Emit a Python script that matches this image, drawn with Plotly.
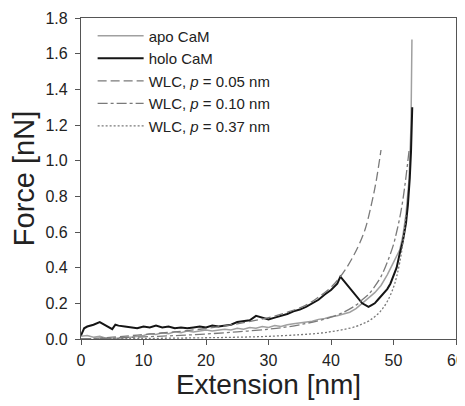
import plotly.graph_objects as go

holo_x = [0,0.5,1,2,3,4,5,5.5,6,7,8,9,10,11,12,13,14,15,16,17,18,19,20,21,22,23,24,25,26,27,28,29,30,31,32,33,34,35,36,37,38,39,40,41,41.5,45,46,46.5,47,47.5,48,48.5,49,49.5,50,50.5,51,51.5,52,52.3,52.6,52.8,53]
holo_y = [0.02,0.06,0.07,0.08,0.095,0.075,0.055,0.08,0.075,0.07,0.065,0.06,0.07,0.065,0.075,0.065,0.07,0.06,0.065,0.06,0.065,0.07,0.065,0.075,0.07,0.075,0.08,0.095,0.1,0.105,0.13,0.12,0.11,0.12,0.13,0.14,0.155,0.165,0.18,0.2,0.22,0.25,0.275,0.31,0.35,0.2,0.18,0.19,0.2,0.22,0.24,0.26,0.28,0.31,0.35,0.4,0.48,0.55,0.65,0.75,0.9,1.05,1.3]

apo_x = [0,1,2,3,4,5,6,7,8,9,10,11,12,13,14,15,16,17,18,19,20,21,22,23,24,25,26,27,28,29,30,31,32,33,34,35,36,37,38,39,40,41,42,43,44,45,46,47,48,49,50,50.5,51,51.5,52,52.5,52.8,52.95]
apo_y = [0.015,0.02,0.01,0.015,0.005,0.0,0.005,0.01,0.01,0.015,0.02,0.03,0.025,0.035,0.03,0.04,0.035,0.045,0.04,0.045,0.05,0.045,0.05,0.055,0.05,0.06,0.055,0.065,0.06,0.07,0.065,0.075,0.07,0.08,0.085,0.09,0.095,0.1,0.11,0.115,0.125,0.13,0.14,0.15,0.17,0.2,0.23,0.26,0.3,0.36,0.43,0.47,0.5,0.58,0.7,0.9,1.2,1.68]

wlc05_x = [0,5,10,15,20,25,30,33,36,38,40,41.5,42.5,43.5,44.5,45.5,46.5,47.2,48]
wlc05_y = [0,0.01,0.025,0.04,0.059,0.085,0.12,0.15,0.19,0.235,0.29,0.35,0.40,0.46,0.53,0.62,0.76,0.88,1.06]

wlc10_x = [0,5,10,15,20,25,30,33,36,38,40,42,44,45,46,47,48,49,50,50.5,51,51.5,52,52.5]
wlc10_y = [0,0.005,0.012,0.019,0.028,0.04,0.055,0.068,0.087,0.103,0.122,0.15,0.19,0.22,0.25,0.295,0.35,0.43,0.53,0.6,0.68,0.78,0.91,1.06]

wlc37_x = [0,10,20,25,30,35,38,40,42,44,45,46,47,48,49,50,50.5,51,51.5,52]
wlc37_y = [0,0.003,0.007,0.01,0.015,0.024,0.032,0.041,0.053,0.07,0.084,0.1,0.125,0.159,0.21,0.29,0.35,0.43,0.54,0.7]

x_ticks = [0, 10, 20, 30, 40, 50, 60]
y_ticks = [0.0, 0.2, 0.4, 0.6, 0.8, 1.0, 1.2, 1.4, 1.6, 1.8]

FONT = "Liberation Sans, Arial, sans-serif"

fig = go.Figure()
fig.add_trace(go.Scatter(x=apo_x, y=apo_y, mode="lines", name="apo CaM",
                         line=dict(color="#a0a0a0", width=1.5)))
fig.add_trace(go.Scatter(x=holo_x, y=holo_y, mode="lines", name="holo CaM",
                         line=dict(color="#151515", width=2)))
fig.add_trace(go.Scatter(x=wlc05_x, y=wlc05_y, mode="lines", line_shape="spline",
                         name="WLC, <i>p</i> = 0.05 nm",
                         line=dict(color="#7a7a7a", width=1.3, dash="9px,4px")))
fig.add_trace(go.Scatter(x=wlc10_x, y=wlc10_y, mode="lines", line_shape="spline",
                         name="WLC, <i>p</i> = 0.10 nm",
                         line=dict(color="#7a7a7a", width=1.3, dash="10px,3px,3px,3px")))
fig.add_trace(go.Scatter(x=wlc37_x, y=wlc37_y, mode="lines", line_shape="spline",
                         name="WLC, <i>p</i> = 0.37 nm",
                         line=dict(color="#7a7a7a", width=1.3, dash="2px,2px")))

axis_common = dict(showline=True, linecolor="#555", linewidth=1.2, mirror=True,
                   ticks="outside", ticklen=5, tickcolor="#555", showgrid=False,
                   zeroline=False, tickfont=dict(family=FONT, size=16, color="#222"))

fig.update_layout(
    width=465, height=406,
    margin=dict(l=73, r=17, t=10, b=75, autoexpand=False),
    paper_bgcolor="white", plot_bgcolor="white",
    font=dict(family=FONT, color="#222"),
    showlegend=True,
    legend=dict(x=0.031, y=0.995, xanchor="left", yanchor="top",
                bgcolor="rgba(0,0,0,0)", font=dict(family=FONT, size=15, color="#222"),
                tracegroupgap=0, itemwidth=46),
    xaxis=dict(range=[0, 60], tickvals=x_ticks, ticktext=[str(v) for v in x_ticks],
               ticklabelstandoff=2,
               title=dict(text="Extension [nm]", font=dict(family=FONT, size=28, color="#222"), standoff=6),
               **axis_common),
    yaxis=dict(range=[0, 1.8], tickvals=y_ticks, ticktext=["%.1f" % v for v in y_ticks],
               ticklabelstandoff=4,
               title=dict(text="Force [nN]", font=dict(family=FONT, size=29, color="#222"), standoff=8),
               **axis_common),
)

fig.write_html("out.html")
